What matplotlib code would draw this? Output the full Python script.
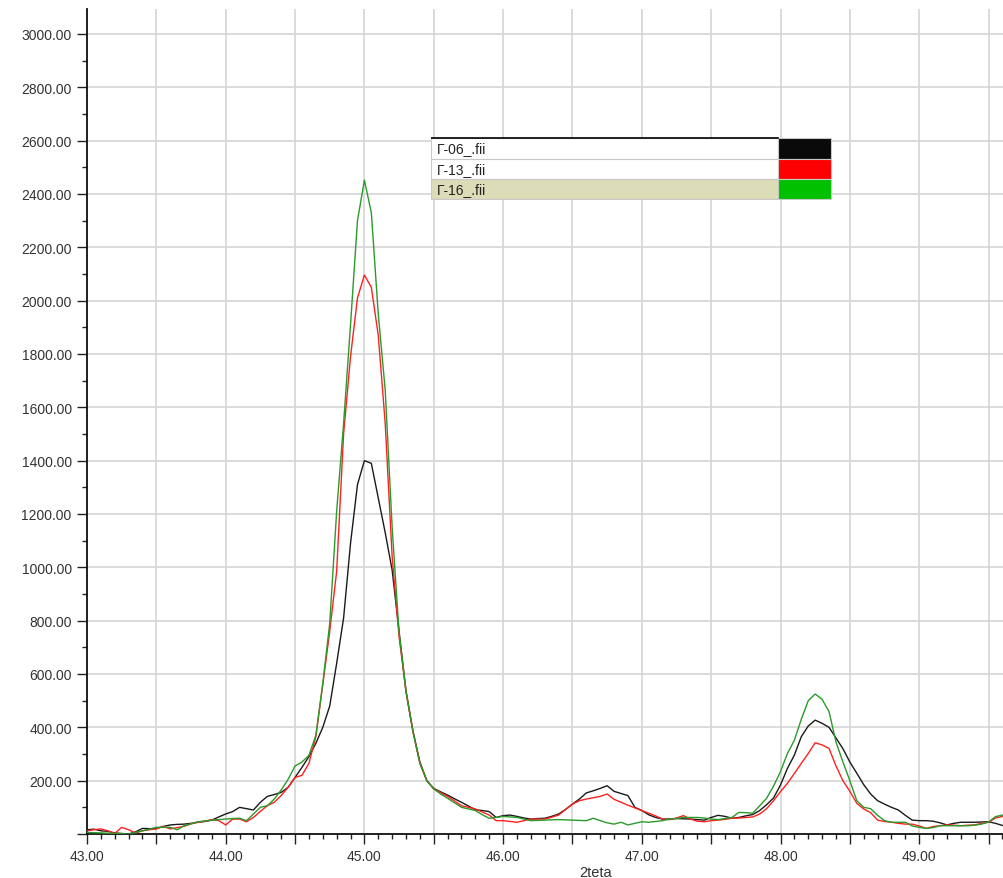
import numpy as np
import matplotlib
matplotlib.use('Agg')
import matplotlib.pyplot as plt
from matplotlib.patches import Rectangle
from matplotlib.ticker import MultipleLocator, FuncFormatter

plt.rcParams['font.family'] = ['Liberation Sans', 'DejaVu Sans']

# 2teta grid, step 0.05 from 43.00 to 49.60
two_theta = np.round(np.arange(43.0, 49.6001, 0.05), 2)

g06 = [16, 18, 12, 10, 4, 2, 0, 8, 21, 20,
       21, 28, 34, 36, 37, 40, 44, 47, 52, 64,
       75, 84, 100, 95, 90, 119, 141, 148, 156, 175,
       212, 250, 290, 340, 400, 480, 640, 810, 1090, 1310,
       1400, 1390, 1260, 1130, 990, 760, 535, 385, 270, 200,
       171, 158, 146, 132, 119, 105, 91, 88, 84, 62,
       69, 71, 66, 60, 56, 58, 59, 66, 75, 92,
       112, 131, 154, 162, 171, 181, 160, 152, 144, 100,
       88, 72, 62, 56, 56, 58, 57, 56, 54, 52,
       62, 70, 66, 59, 62, 68, 73, 88, 110, 135,
       184, 246, 296, 365, 405, 427, 415, 400, 360, 320,
       270, 228, 185, 150, 125, 112, 100, 90, 70, 52,
       50, 50, 48, 42, 34, 40, 44, 44, 44, 45,
       46, 40, 32]

g13 = [12, 16, 19, 12, 2, 25, 16, 4, 12, 16,
       19, 29, 19, 24, 29, 38, 44, 48, 54, 50,
       34, 56, 56, 46, 62, 85, 106, 119, 144, 175,
       212, 220, 265, 365, 560, 760, 985, 1500, 1790, 2010,
       2096, 2050, 1870, 1540, 1040, 740, 535, 385, 265, 200,
       169, 155, 141, 124, 106, 100, 94, 82, 71, 50,
       50, 47, 44, 50, 56, 56, 56, 63, 71, 92,
       112, 125, 131, 136, 141, 150, 130, 119, 108, 98,
       88, 78, 68, 56, 54, 60, 69, 56, 48, 46,
       50, 52, 55, 59, 60, 62, 64, 75, 95, 125,
       159, 190, 227, 265, 302, 342, 334, 321, 255, 200,
       160, 115, 94, 80, 52, 47, 44, 40, 37, 37,
       30, 21, 28, 31, 34, 33, 31, 33, 34, 40,
       44, 60, 66]

g16 = [6, 5, 4, 3, 2, 1, 0, 6, 12, 18,
       25, 25, 25, 16, 31, 38, 46, 49, 52, 54,
       56, 58, 59, 50, 75, 100, 106, 131, 165, 205,
       255, 270, 295, 370, 565, 790, 1210, 1540, 1910, 2300,
       2452, 2330, 1950, 1665, 1150, 755, 535, 385, 265, 200,
       169, 150, 134, 117, 100, 94, 88, 72, 59, 62,
       66, 64, 62, 56, 50, 51, 52, 53, 54, 53,
       52, 51, 50, 59, 50, 42, 37, 44, 34, 40,
       46, 44, 47, 50, 56, 58, 62, 62, 62, 60,
       56, 54, 58, 62, 81, 80, 78, 106, 134, 180,
       234, 302, 352, 430, 500, 525, 505, 459, 345, 270,
       200, 125, 100, 95, 70, 50, 44, 44, 44, 30,
       25, 21, 24, 31, 31, 31, 31, 31, 33, 37,
       45, 65, 71]

names = ['\u0413-06_.fii', '\u0413-13_.fii', '\u0413-16_.fii']
line_colors = ['#1a1a1a', '#ff2020', '#2a9a2a']
swatch_colors = ['#0a0a0a', '#ff0000', '#00c000']

fig = plt.figure(figsize=(10.04, 8.79), dpi=100)
ax = fig.add_axes([87 / 1004, 44 / 879, 917 / 1004, 825 / 879])

for y, c in zip([g06, g13, g16], line_colors):
    ax.plot(two_theta, y, color=c, lw=1.0, zorder=3)

ax.set_xlim(43.0, 43.0 + 917 / 138.7)
ax.set_ylim(0, 825 * 3.75)

ax.xaxis.set_major_locator(MultipleLocator(0.5))
ax.xaxis.set_minor_locator(MultipleLocator(0.1))
ax.yaxis.set_major_locator(MultipleLocator(200))
ax.yaxis.set_minor_locator(MultipleLocator(100))
ax.xaxis.set_major_formatter(FuncFormatter(
    lambda v, p: f'{v:.2f}' if abs(v - round(v)) < 1e-6 else ''))
ax.yaxis.set_major_formatter(FuncFormatter(
    lambda v, p: '' if abs(v) < 1e-6 else f'{v:.2f}'))

ax.grid(True, which='major', color='#d4d4d4', lw=1.2, zorder=0)
ax.tick_params(which='major', length=7, width=1, color='#222222',
               labelsize=10, labelcolor='#333333', pad=4)
ax.tick_params(which='minor', length=3.5, width=1, color='#222222')

for s in ['top', 'right']:
    ax.spines[s].set_visible(False)
for s in ['left', 'bottom']:
    ax.spines[s].set_linewidth(1.3)
    ax.spines[s].set_color('#111111')

ax.set_xlabel('2teta', fontsize=10.5, color='#333333')
ax.xaxis.set_label_coords((596 - 87) / 917, -0.038)

# legend table
lg = fig.add_axes([431 / 1004, (879 - 201) / 879, 401 / 1004, 63 / 879])
lg.set_xlim(0, 401)
lg.set_ylim(63, 0)
lg.axis('off')
for i, (name, sc) in enumerate(zip(names, swatch_colors)):
    top = 1 + i * 20.5
    bg = '#dcdcb8' if i == 2 else 'white'
    lg.add_patch(Rectangle((0, top), 347, 20.5, facecolor=bg,
                           edgecolor='#c8c8c8', lw=0.8))
    lg.add_patch(Rectangle((347, top), 53, 20.5, facecolor=sc,
                           edgecolor='#c8c8c8', lw=0.8))
    lg.text(6, top + 10.5, name, fontsize=10, color='#222222',
            va='center', ha='left')
lg.plot([0, 347], [1, 1], color='black', lw=1.2)

fig.savefig('out.png', dpi=100)
